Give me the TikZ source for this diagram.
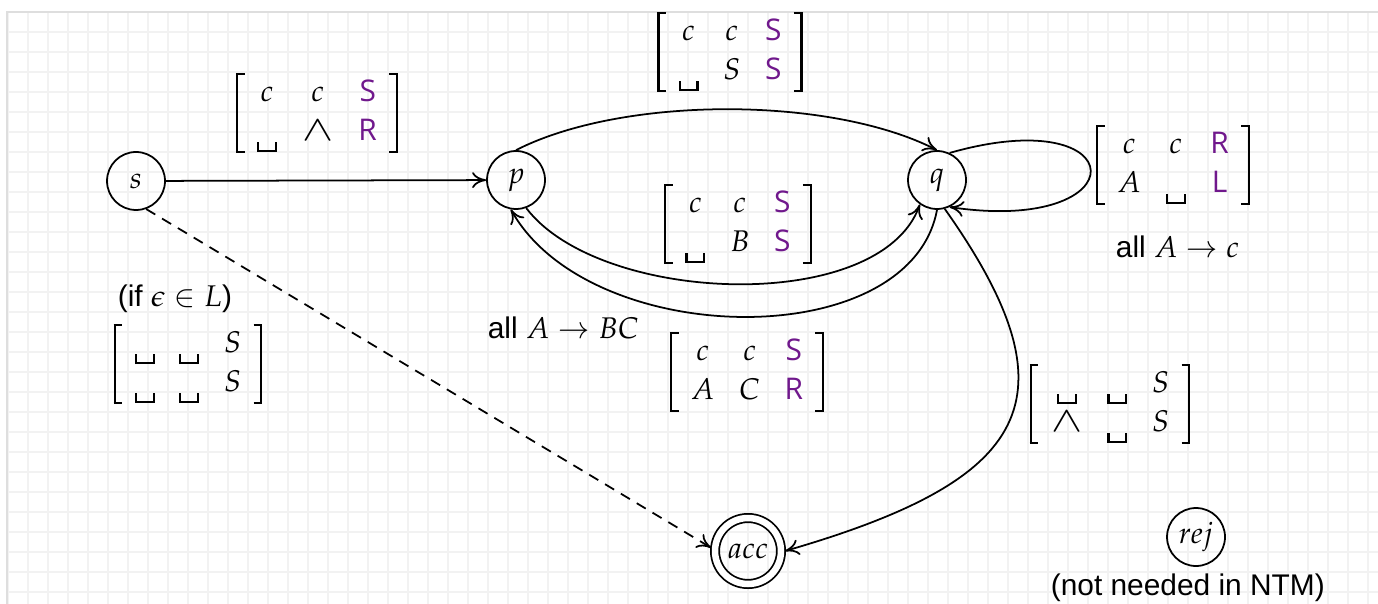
\documentclass[tikz,border=0pt]{standalone}
\usepackage{amsmath}
\usepackage{graphicx}
\usepackage{mathpazo}
\usepackage[no-math]{fontspec}
\setmainfont{Liberation Sans}
\newfontfamily\tapefont{Open Sans}
\usetikzlibrary{arrows.meta}
\definecolor{headmove}{RGB}{112,24,140}
\definecolor{gridline}{RGB}{242,242,242}
\definecolor{gridedge}{RGB}{222,222,222}
\setlength{\arraycolsep}{7pt}
% visible blank symbol, hanging below the baseline
\newcommand{\blank}{\mbox{\rule[-6.6pt]{1.2pt}{5.6pt}\rule[-6.6pt]{9pt}{1.2pt}\rule[-6.6pt]{1.2pt}{5.6pt}}}
% wide "and" sign used as a tape symbol
\newcommand{\tand}{\mbox{\scalebox{1.5}[1.15]{$\wedge$}}}
% head movement / symbol written in colour
\newcommand{\mv}[1]{\mbox{\color{headmove}\tapefont #1}}
% square brackets of fixed height, centred on the math axis
\newcommand{\lbrk}{\mbox{\rule[-18.5pt]{1.2pt}{45.5pt}\hspace{-1.2pt}\rule[-18.5pt]{5pt}{1.2pt}\hspace{-5pt}\rule[25.8pt]{5pt}{1.2pt}}}
\newcommand{\rbrk}{\mbox{\rule[-18.5pt]{5pt}{1.2pt}\hspace{-5pt}\rule[25.8pt]{5pt}{1.2pt}\hspace{-1.2pt}\rule[-18.5pt]{1.2pt}{45.5pt}}}
\newcommand{\tape}[1]{\lbrk\begin{array}{ccc}#1\end{array}\rbrk}
\begin{document}
\begin{tikzpicture}[x=0.02cm,y=-0.02cm,line width=1pt,
  >={To[length=8pt,width=9pt]},
  state/.style={circle,draw,minimum size=1.16cm,inner sep=0pt,
    font=\fontsize{17}{22}\selectfont},
  lbl/.style={inner sep=0pt,font=\fontsize{17}{22}\selectfont},
  gridc/.style={draw=gridline,line width=1.1pt}]
\useasboundingbox[fill=white] (0,0) rectangle (1378,604);
% background grid
\foreach \gx in {8,28,...,1368} \draw[gridc] (\gx,12) -- (\gx,604);
\foreach \gy in {32,52,...,592} \draw[gridc] (7,\gy) -- (1378,\gy);
\draw[draw=gridedge,line width=0.8pt] (7,604) -- (7,12) -- (1378,12);

% states
\node[state] (s) at (136,181) {$s$};
\node[state] (p) at (516,180) {$p$};
\node[state] (q) at (937,180) {$q$};
\node[state,minimum size=1.32cm,double,double distance=3.7pt,outer sep=2.3pt] (acc) at (748,551) {$acc$};
\node[state] (rej) at (1196,537) {$rej$};

% transitions
\draw[->] (s) -- (p);
\draw[->,dash pattern=on 6pt off 4.5pt] (s.290) -- (acc.175);
\draw[->] (p.north) to[out=27,in=153,looseness=0.73] (q.north);
\draw[->] (p.290) .. controls (600,305) and (880,315) .. (q.235);
\draw[->] (q.south) .. controls (910,355) and (590,350) .. (p.260);
\draw[->] (q.65) .. controls (1135,100) and (1140,235) .. (q.295);
\draw[->] (q.285) .. controls (1080,400) and (1030,480) .. (acc.0);

% transition labels
\node[lbl] (m1) at (317,113) {$\tape{c & c & \mv{S}\\ \blank & \tand & \mv{R}}$};
\node[lbl] (m2) at (730,52) {$\tape{c & c & \mv{S}\\ \blank & S & \mv{S}}$};
\node[lbl] (m3) at (738,224) {$\tape{c & c & \mv{S}\\ \blank & B & \mv{S}}$};
\node[lbl] (m4) at (747,372) {$\tape{c & c & \mv{S}\\ A & C & \mv{R}}$};
\node[lbl] (m5) at (1173,165) {$\tape{c & c & \mv{R}\\ A & \blank & \mv{L}}$};
\node[lbl] (m6) at (1110,404) {$\tape{\blank & \blank & S\\ \tand & \blank & S}$};
\node[lbl] (m7) at (188,364) {$\tape{\blank & \blank & S\\ \blank & \blank & S}$};

\node[lbl,anchor=base west] (r1) at (487,338) {all $A\to BC$};
\node[lbl,anchor=base west] (r2) at (1115,258) {all $A\to c$};
\node[lbl,anchor=base west] (eps) at (117,306) {(if $\epsilon\in L$)};
\node[lbl,anchor=base west] (note) at (1050,595) {(not needed in NTM)};
\end{tikzpicture}
\end{document}
